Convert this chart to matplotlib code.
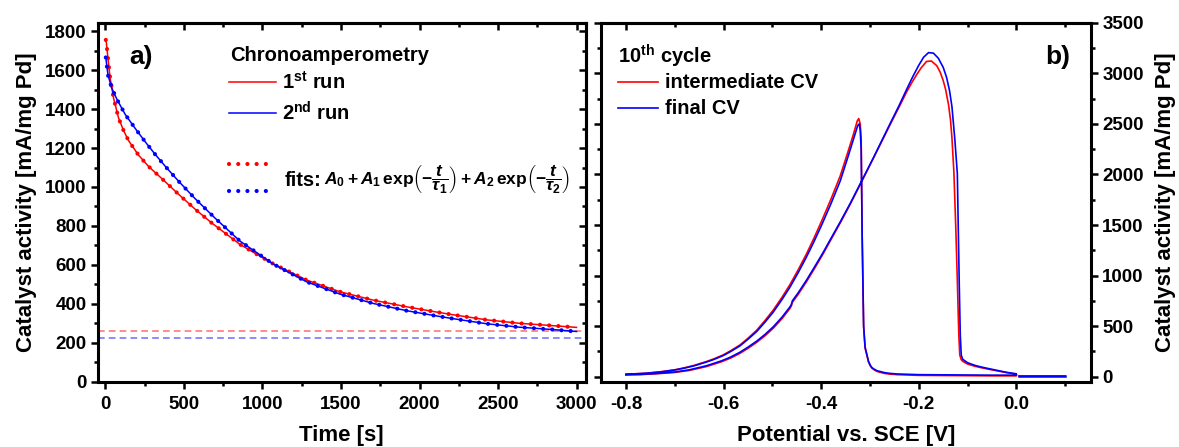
import matplotlib
matplotlib.use("Agg")
import matplotlib.pyplot as plt
from matplotlib.ticker import MultipleLocator

plt.rcParams["font.family"] = ["Liberation Sans", "DejaVu Sans"]
plt.rcParams["font.weight"] = "bold"
plt.rcParams["axes.labelweight"] = "bold"
plt.rcParams["axes.unicode_minus"] = False
plt.rcParams["mathtext.fontset"] = "custom"
plt.rcParams["mathtext.rm"] = "Liberation Sans:bold"
plt.rcParams["mathtext.it"] = "Liberation Sans:italic:bold"
plt.rcParams["mathtext.bf"] = "Liberation Sans:bold"
plt.rcParams["mathtext.sf"] = "Liberation Sans:bold"

# ---- panel a) chronoamperometry ----
t_run1 = [2, 5, 16, 30, 52, 83, 115, 147, 211, 274, 359, 465, 571, 677, 857,
          1069, 1281, 1493, 1705, 1917, 2001, 2107, 2213, 2425, 2637, 2849, 3000]
i_run1 = [1755, 1745, 1660, 1557, 1455, 1355, 1290, 1238, 1163, 1106, 1043, 963,
          886, 815, 705, 605, 522, 462, 419, 385, 373, 358, 344, 318, 300, 288, 279]
t_run2 = [2, 16, 41, 73, 126, 190, 253, 317, 380, 465, 571, 698, 857, 1069,
          1281, 1493, 1705, 1917, 2001, 2107, 2213, 2425, 2637, 2849, 3000]
i_run2 = [1665, 1574, 1506, 1450, 1372, 1300, 1232, 1167, 1107, 1030, 940, 840,
          722, 604, 513, 450, 402, 365, 353, 338, 324, 298, 280, 268, 258]
# fitted A0 values (dashed asymptotes)
a0_run1 = 260
a0_run2 = 226

# ---- panel b) 10th cycle CV ----
# forward scan -0.8 -> 0.0 V
e_fwd = [-0.80, -0.77, -0.74, -0.70, -0.67, -0.635, -0.604, -0.585, -0.566, -0.55,
         -0.532, -0.515, -0.498, -0.48, -0.464, -0.461, -0.459, -0.447, -0.430,
         -0.413, -0.396, -0.38, -0.361, -0.34, -0.320, -0.293, -0.259, -0.240, -0.225]
e_fwd_int = e_fwd + [-0.214, -0.204, -0.195, -0.184, -0.174, -0.163, -0.156, -0.150,
                     -0.145, -0.139, -0.135, -0.132, -0.128, -0.124, -0.121, -0.118,
                     -0.116, -0.113, -0.110, -0.10, -0.085, -0.074, -0.06, -0.04,
                     -0.02, 0.0]
i_fwd_int = [18, 21, 28, 42, 62, 100, 148, 185, 232, 280, 340, 405, 480, 575, 675,
             700, 735, 815, 940, 1075, 1215, 1355, 1520, 1710, 1900, 2160, 2490,
             2670, 2815, 2910, 2990, 3055, 3118, 3122, 3075, 3010, 2930, 2840, 2690,
             2540, 2360, 2020, 1450, 950, 420, 215, 168, 152, 125, 103, 91, 77, 58,
             40, 25]
e_fwd_fin = e_fwd + [-0.212, -0.200, -0.190, -0.180, -0.170, -0.160, -0.150, -0.143,
                     -0.137, -0.132, -0.126, -0.121, -0.119, -0.117, -0.115, -0.113,
                     -0.110, -0.10, -0.085, -0.074, -0.06, -0.04, -0.02, 0.0]
i_fwd_fin = [20, 23, 31, 46, 68, 108, 157, 195, 243, 292, 352, 418, 494, 590, 690,
             715, 750, 830, 955, 1090, 1228, 1367, 1530, 1718, 1908, 2165, 2500,
             2685, 2840, 2970, 3080, 3160, 3205, 3200, 3150, 3060, 2960, 2830, 2670,
             2340, 2010, 1450, 900, 420, 215, 172, 138, 112, 98, 83, 63, 43, 28]
# reverse scan 0.0 -> -0.8 V
e_rev_int = [0.0, -0.05, -0.109, -0.20, -0.245, -0.26, -0.27, -0.28, -0.286, -0.292,
             -0.296, -0.299, -0.303, -0.306, -0.310, -0.313, -0.316, -0.318, -0.320,
             -0.323, -0.326, -0.335, -0.345, -0.361, -0.38, -0.399, -0.415, -0.43,
             -0.447, -0.464, -0.48, -0.498, -0.515, -0.532, -0.55, -0.566, -0.585,
             -0.601, -0.62, -0.635, -0.66, -0.68, -0.70, -0.73, -0.76, -0.80]
i_rev_int = [8, 8, 10, 13, 20, 26, 32, 44, 53, 70, 84, 105, 145, 205, 285, 500, 1400,
             2350, 2500, 2553, 2530, 2380, 2225, 1985, 1755, 1540, 1368, 1215, 1058,
             910, 787, 660, 556, 460, 380, 315, 258, 215, 176, 150, 112, 88, 68, 48,
             34, 24]
e_rev_fin = [0.0, -0.05, -0.109, -0.20, -0.245, -0.26, -0.27, -0.28, -0.286, -0.292,
             -0.296, -0.299, -0.303, -0.306, -0.310, -0.313, -0.316, -0.318, -0.320,
             -0.322, -0.325, -0.335, -0.345, -0.361, -0.38, -0.399, -0.415, -0.43,
             -0.447, -0.464, -0.48, -0.498, -0.515, -0.532, -0.55, -0.566, -0.585,
             -0.601, -0.62, -0.635, -0.66, -0.68, -0.70, -0.73, -0.76, -0.80]
i_rev_fin = [15, 15, 17, 20, 27, 33, 40, 52, 60, 76, 90, 110, 152, 212, 292, 500,
             1400, 2250, 2440, 2500, 2485, 2330, 2175, 1935, 1710, 1500, 1333, 1185,
             1030, 885, 765, 640, 540, 447, 370, 306, 250, 208, 170, 145, 108, 85, 66,
             46, 33, 23]
e_tail = [0.005, 0.10]
i_tail_int = [8, 8]
i_tail_fin = [9, 9]

RED = "#ff0000"
BLUE = "#0000ff"

fig = plt.figure(figsize=(11.79, 4.47), dpi=100)
ax1 = fig.add_axes([0.0828, 0.146, 0.4142, 0.803])
ax2 = fig.add_axes([0.5098, 0.146, 0.4156, 0.803])

# panel a
ax1.axhline(a0_run1, color="#ff7878", lw=1.2, ls=(0, (4, 2.5)))
ax1.axhline(a0_run2, color="#7878ff", lw=1.2, ls=(0, (4, 2.5)))
dots = dict(lw=3.0, ls=(0, (0.01, 2.2)), dash_capstyle="round")
ax1.plot(t_run1, i_run1, color=RED, lw=1.1)
ax1.plot(t_run1, i_run1, color=RED, **dots)
ax1.plot(t_run2, i_run2, color=BLUE, lw=1.1)
ax1.plot(t_run2, i_run2, color=BLUE, **dots)

ax1.set_xlim(-50, 3060)
ax1.set_ylim(0, 1843)
ax1.xaxis.set_major_locator(MultipleLocator(500))
ax1.xaxis.set_minor_locator(MultipleLocator(250))
ax1.yaxis.set_major_locator(MultipleLocator(200))
ax1.yaxis.set_minor_locator(MultipleLocator(100))
ax1.set_xlabel("Time [s]", fontsize=16, labelpad=9)
ax1.set_ylabel("Catalyst activity [mA/mg Pd]", fontsize=16, labelpad=6)

# panel b
ax2.plot(e_fwd_int + e_rev_int, i_fwd_int + i_rev_int, color=RED, lw=1.2)
ax2.plot(e_tail, i_tail_int, color=RED, lw=1.2)
ax2.plot(e_fwd_fin + e_rev_fin, i_fwd_fin + i_rev_fin, color=BLUE, lw=1.2)
ax2.plot(e_tail, i_tail_fin, color=BLUE, lw=1.8)
ax2.set_xlim(-0.851, 0.153)
ax2.set_ylim(-50, 3500)
ax2.xaxis.set_major_locator(MultipleLocator(0.2))
ax2.xaxis.set_minor_locator(MultipleLocator(0.1))
ax2.yaxis.set_major_locator(MultipleLocator(500))
ax2.yaxis.set_minor_locator(MultipleLocator(250))
ax2.set_xlabel("Potential vs. SCE [V]", fontsize=16, labelpad=9)
ax2.yaxis.set_label_position("right")
ax2.set_ylabel("Catalyst activity [mA/mg Pd]", fontsize=16, labelpad=8)

for ax in (ax1, ax2):
    for s in ax.spines.values():
        s.set_linewidth(2.2)
    ax.tick_params(which="both", width=1.8, labelsize=13.5, direction="out")
    ax.tick_params(which="major", length=5)
    ax.tick_params(which="minor", length=3)
    top = ax.secondary_xaxis("top")
    top.xaxis.set_major_locator(ax.xaxis.get_major_locator())
    top.xaxis.set_minor_locator(ax.xaxis.get_minor_locator())
    top.tick_params(which="both", direction="in", width=1.8, labeltop=False)
    top.tick_params(which="major", length=5)
    top.tick_params(which="minor", length=3)
    top.spines["top"].set_linewidth(2.2)

ax1.tick_params(axis="y", which="both", pad=3)
ax1.tick_params(axis="x", which="both", pad=5)
rgt = ax1.secondary_yaxis("right")
rgt.yaxis.set_major_locator(MultipleLocator(200))
rgt.yaxis.set_minor_locator(MultipleLocator(100))
rgt.tick_params(which="both", direction="in", width=1.8, labelright=False)
rgt.tick_params(which="major", length=5)
rgt.tick_params(which="minor", length=3)
rgt.spines["right"].set_linewidth(2.2)

ax2.tick_params(axis="y", which="both", left=True, right=True,
                labelleft=False, labelright=True, pad=3)
ax2.tick_params(axis="x", which="both", pad=5)

# annotations panel a
ax1.text(0.089, 0.904, "a)", transform=ax1.transAxes, fontsize=19,
         ha="center", va="center")
ax1.text(0.271, 0.894, "Chronoamperometry", transform=ax1.transAxes,
         fontsize=14.5, ha="left", va="baseline")
ax1.plot([0.269, 0.366], [0.835, 0.835], color=RED, lw=1.1, transform=ax1.transAxes)
ax1.plot([0.269, 0.366], [0.748, 0.748], color=BLUE, lw=1.1, transform=ax1.transAxes)
ax1.text(0.378, 0.835, r"1$^{\mathbf{st}}$ run", transform=ax1.transAxes,
         fontsize=14.5, ha="left", va="center")
ax1.text(0.378, 0.748, r"2$^{\mathbf{nd}}$ run", transform=ax1.transAxes,
         fontsize=14.5, ha="left", va="center")
ax1.plot([0.269, 0.362], [0.606, 0.606], color=RED, transform=ax1.transAxes, **dots)
ax1.plot([0.269, 0.362], [0.531, 0.531], color=BLUE, transform=ax1.transAxes, **dots)
ax1.text(0.382, 0.561, "fits:", transform=ax1.transAxes, fontsize=14.5,
         ha="left", va="center")
ax1.text(0.463, 0.561,
         r"$A_0 + A_1\,\mathrm{exp}\left(-\dfrac{t}{\tau_1}\right) + "
         r"A_2\,\mathrm{exp}\left(-\dfrac{t}{\tau_2}\right)$",
         transform=ax1.transAxes, fontsize=12.5, ha="left", va="center")

# annotations panel b
ax2.text(0.035, 0.887, r"10$^{\mathbf{th}}$ cycle", transform=ax2.transAxes,
         fontsize=14.5, ha="left", va="baseline")
ax2.plot([0.035, 0.116], [0.835, 0.835], color=RED, lw=1.2, transform=ax2.transAxes)
ax2.plot([0.035, 0.116], [0.762, 0.762], color=BLUE, lw=1.2, transform=ax2.transAxes)
ax2.text(0.131, 0.835, "intermediate CV", transform=ax2.transAxes,
         fontsize=14.5, ha="left", va="center")
ax2.text(0.131, 0.762, "final CV", transform=ax2.transAxes,
         fontsize=14.5, ha="left", va="center")
ax2.text(0.931, 0.904, "b)", transform=ax2.transAxes, fontsize=19,
         ha="center", va="center")

fig.savefig("out.png", dpi=100)
